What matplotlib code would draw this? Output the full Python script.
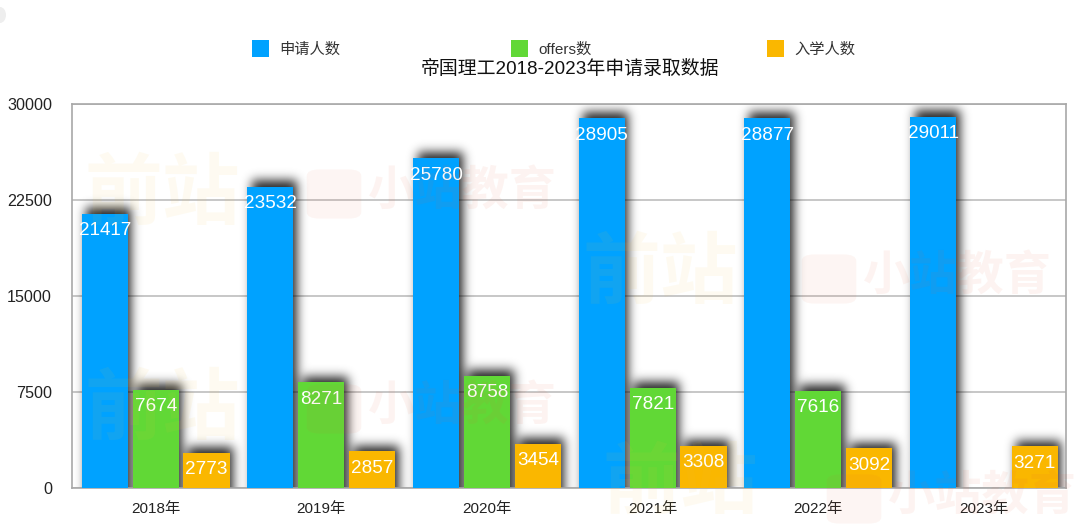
import numpy as np
import matplotlib
matplotlib.use('Agg')
import matplotlib.pyplot as plt
from matplotlib.patches import Rectangle, FancyBboxPatch, Ellipse

plt.rcParams['font.family'] = ['Liberation Sans', 'Noto Sans CJK SC', 'DejaVu Sans']

# Data
years = ['2018年', '2019年', '2020年', '2021年', '2022年', '2023年']
applicants = [21417, 23532, 25780, 28905, 28877, 29011]
offers = [7674, 8271, 8758, 7821, 7616, 0]
enrolled = [2773, 2857, 3454, 3308, 3092, 3271]
yticks = [0, 7500, 15000, 22500, 30000]

series_names = ['申请人数', 'offers数', '入学人数']
colors = ['#00a2ff', '#61d836', '#fab700']

W, H = 1080, 528
AX_L, AX_R, AX_T, AX_B = 72, 1066, 104, 488
X0, X1 = -0.505, 5.495

fig = plt.figure(figsize=(W / 100, H / 100), dpi=100)
ax = fig.add_axes([AX_L / W, 1 - AX_B / H, (AX_R - AX_L) / W, (AX_B - AX_T) / H])
ax.set_facecolor('none')
ax.set_xlim(X0, X1)
ax.set_ylim(0, 30000)

x = np.arange(len(years))
bar_w = 0.278
step = 0.307
px_y = 30000 / (AX_B - AX_T)
nx, ny = AX_R - AX_L, AX_B - AX_T


def blur(a, sigma):
    # gaussian blur along both axes, edges padded so the bottom stays dark
    r = int(sigma * 3)
    k = np.exp(-np.arange(-r, r + 1) ** 2 / (2 * sigma ** 2))
    k /= k.sum()
    a = np.pad(a, r, mode='edge')
    a = np.apply_along_axis(lambda v: np.convolve(v, k, mode='same'), 0, a)
    a = np.apply_along_axis(lambda v: np.convolve(v, k, mode='same'), 1, a)
    return a[r:-r, r:-r]


# Soft drop shadow: paint the bars on a pixel grid, shift, blur, show as image
mask = np.zeros((ny, nx))
for i, vals in enumerate([applicants, offers, enrolled]):
    for xi, v in zip(x + (i - 1) * step, vals):
        if v == 0:
            continue
        left = (xi - bar_w / 2 - X0) / (X1 - X0) * nx + 5
        right = (xi + bar_w / 2 - X0) / (X1 - X0) * nx + 4
        top = ny - v / 30000 * ny - 5
        mask[max(int(top), 0):, int(left):int(right)] = 1
shadow = np.zeros((ny, nx, 4))
shadow[..., 3] = blur(mask, 5.2) * 0.85
ax.imshow(shadow, extent=(X0, X1, 0, 30000), aspect='auto', zorder=2,
          interpolation='bilinear')

for i, (vals, col) in enumerate(zip([applicants, offers, enrolled], colors)):
    xs = x + (i - 1) * step
    ax.bar(xs, vals, width=bar_w, color=col, linewidth=0, zorder=3)
    for xi, v in zip(xs, vals):
        if v == 0:
            continue
        ax.text(xi, v - 17 * px_y, str(v), color='white', fontsize=13.6,
                ha='center', va='center', zorder=4)

ax.set_yticks(yticks)
ax.set_xticks(x)
ax.set_xticklabels(years)
ax.grid(axis='y', color='#b8b8b8', linewidth=1.1, zorder=0)
ax.set_axisbelow(True)
ax.tick_params(axis='both', length=0, labelcolor='#222222')
ax.tick_params(axis='x', labelsize=11, pad=10)
ax.tick_params(axis='y', labelsize=11.6, pad=14.4)
for s in ax.spines.values():
    s.set_color('#a8a8a8')
    s.set_linewidth(1.2)

# Watermark, very faint, sits over the whole chart
for wx, wy in [(162, 197), (162, 412), (660, 276), (680, 486)]:
    fig.text(wx / W, 1 - wy / H, '前站', fontsize=56, color='#f5c33b', alpha=0.07,
             ha='center', va='center', fontweight='bold', style='italic', zorder=5)
for wx, wy in [(310, 165), (310, 380), (805, 250), (830, 470)]:
    fig.add_artist(FancyBboxPatch((wx / W, 1 - (wy + 52) / H), 48 / W, 46 / H,
                                  boxstyle='round,pad=0.003,rounding_size=0.012',
                                  transform=fig.transFigure,
                                  facecolor='#e8603c', edgecolor='none', alpha=0.06,
                                  zorder=5))
    fig.text((wx + 58) / W, 1 - (wy + 28) / H, '小站教育', fontsize=34, color='#e8603c',
             alpha=0.07, ha='left', va='center', fontweight='bold', zorder=5)

# Legend drawn by hand to sit at the same spots
for name, col, px in zip(series_names, colors, [252, 511, 767]):
    fig.add_artist(Rectangle((px / W, 1 - 57 / H), 17 / W, 17 / H,
                             transform=fig.transFigure, color=col, linewidth=0))
    fig.text((px + 27) / W, 1 - 49.5 / H, name, fontsize=11, color='#333333',
             ha='left', va='center')

fig.text(570 / W, 1 - 69 / H, '帝国理工2018-2023年申请录取数据', fontsize=13.6,
         color='#111111', ha='center', va='center')

# Scrap of a round button cut off at the top left corner
fig.add_artist(Ellipse((0, 1 - 15 / H), 12 / W, 16 / H, transform=fig.transFigure,
                       facecolor='#eeeeee', edgecolor='none'))

fig.savefig('out.png', dpi=100)
